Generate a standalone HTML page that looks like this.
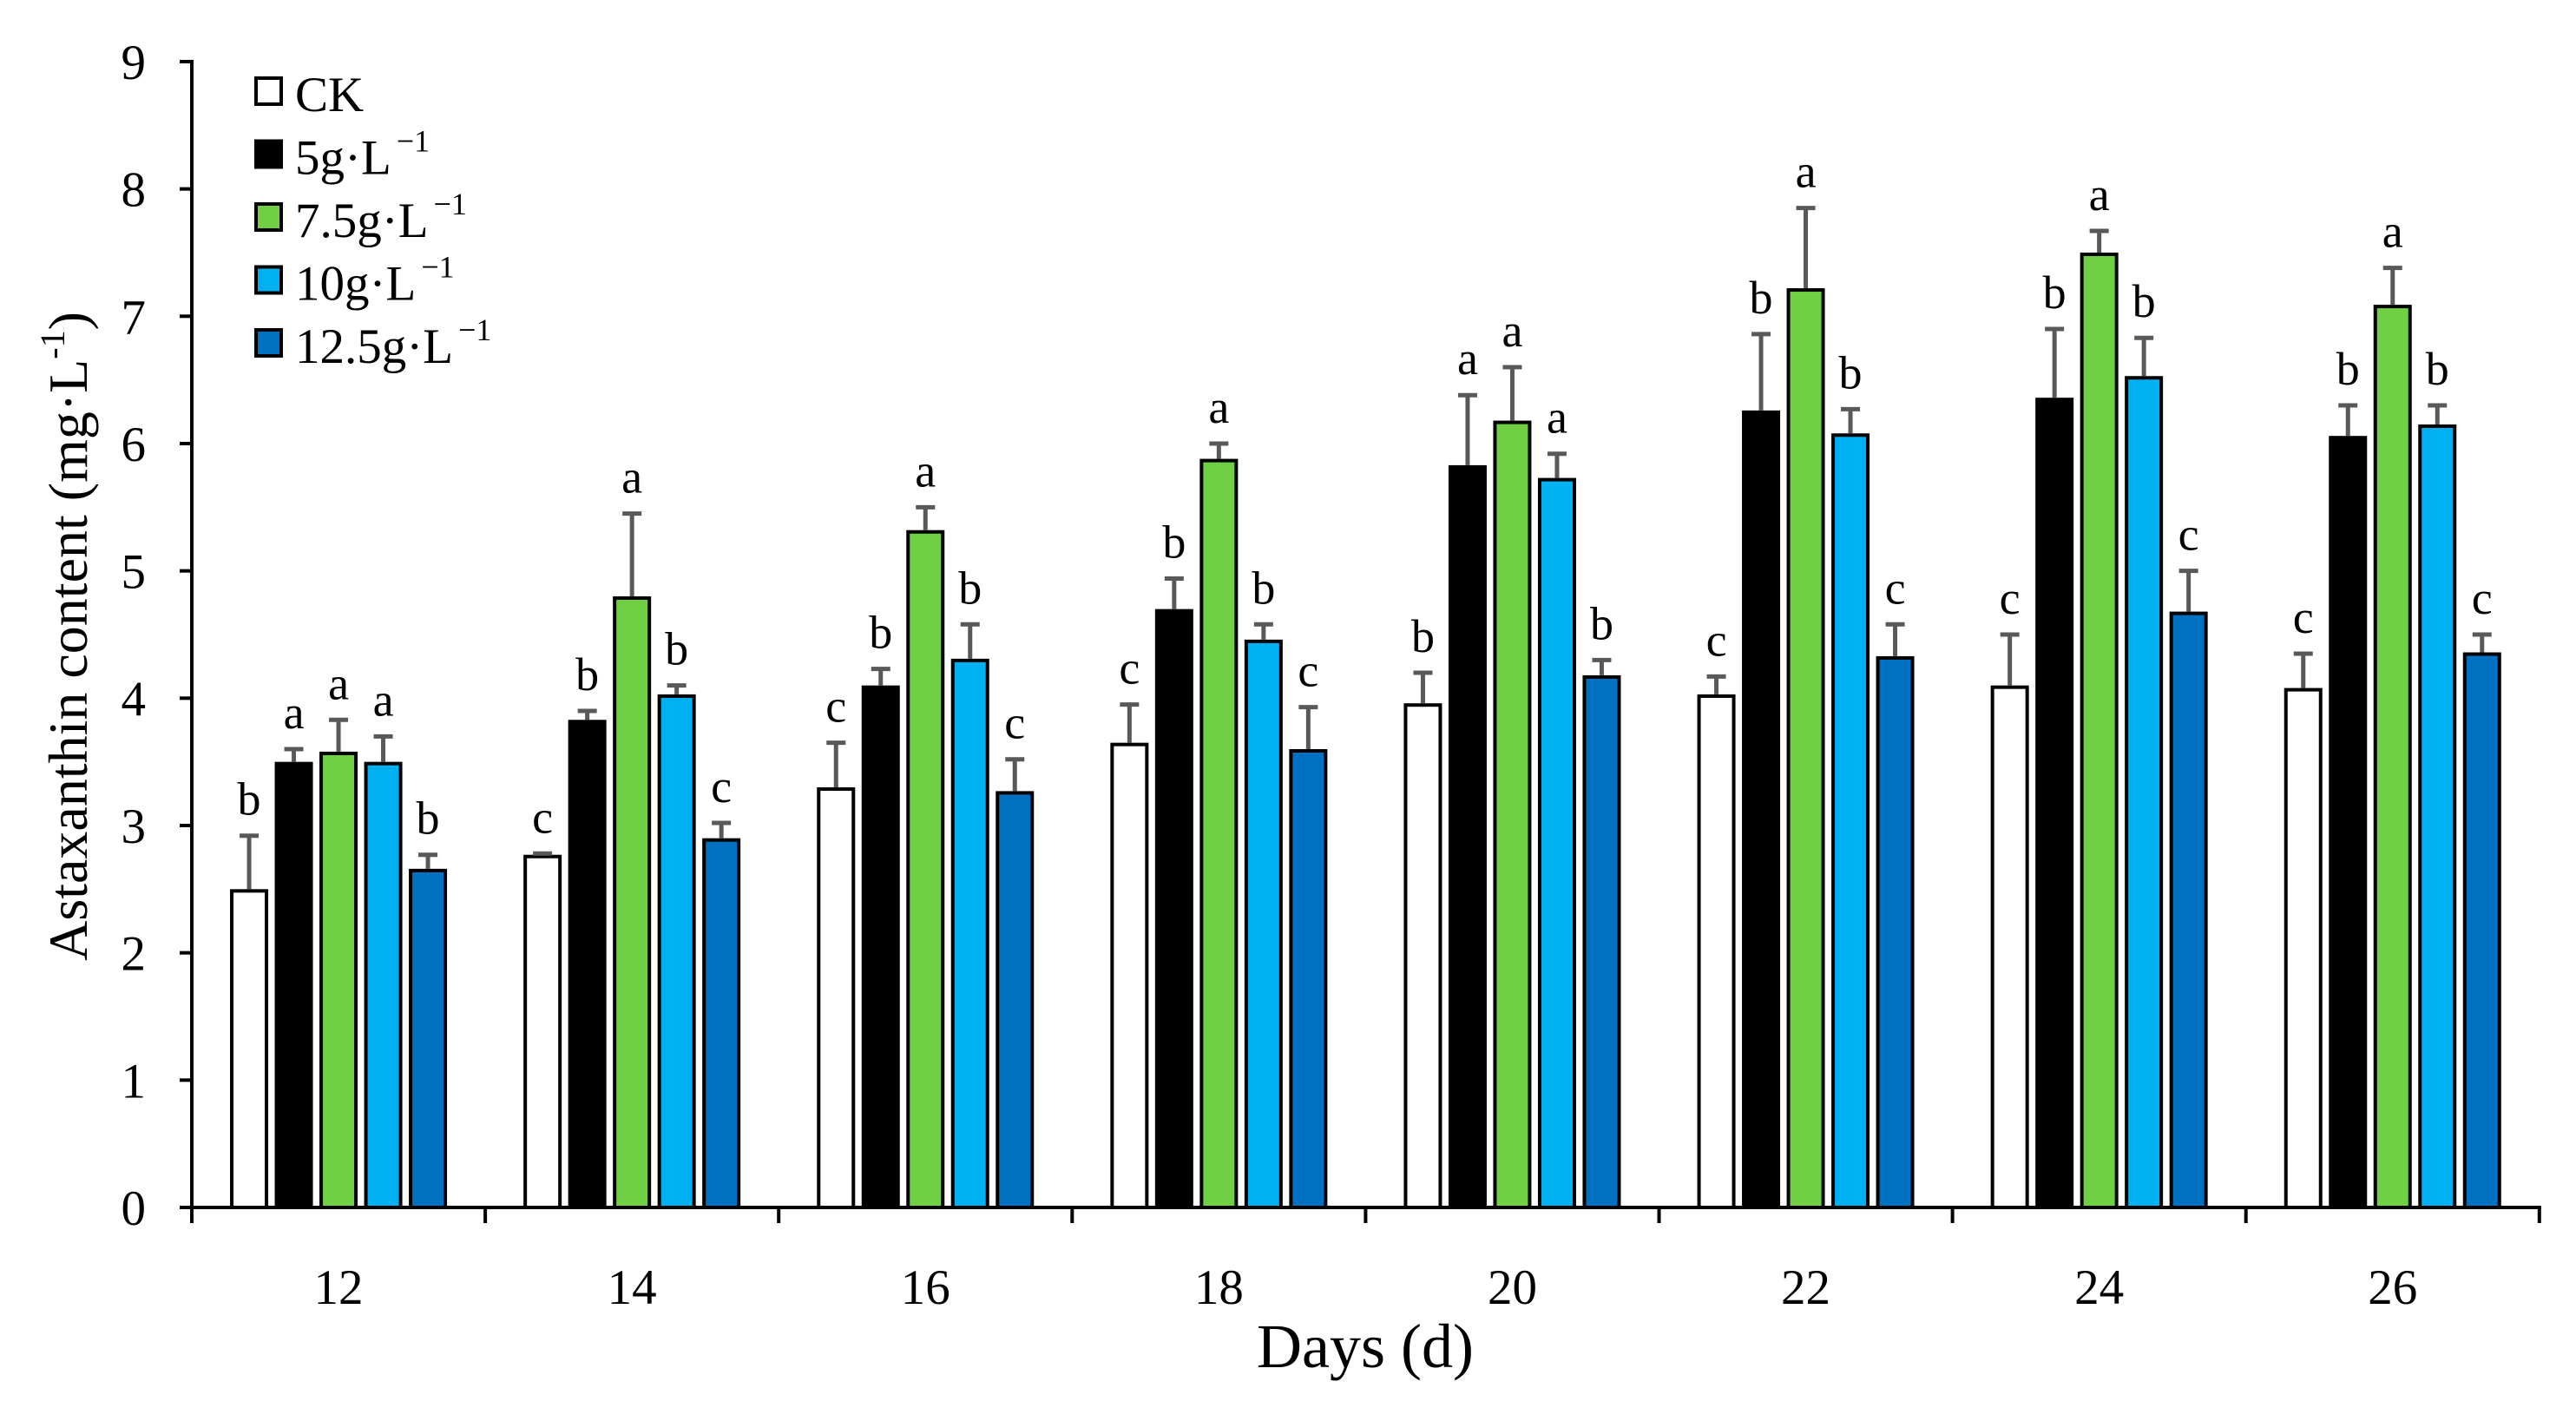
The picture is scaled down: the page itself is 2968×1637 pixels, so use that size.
<!DOCTYPE html>
<html><head><meta charset="utf-8"><style>
html,body{margin:0;padding:0;background:#fff;}
svg text{font-family:"Liberation Serif",serif;fill:#000;}
</style></head><body>
<svg id="chart" width="2968" height="1632" viewBox="0 0 2968 1632" xmlns="http://www.w3.org/2000/svg">
<g id="bars"></g>
<g id="errs"></g>
<g id="letters"></g>
<g id="axes"></g>
<g id="legend"></g>
<text x="1573" y="1575" font-size="72" text-anchor="middle">Days (d)</text>
<text transform="translate(100,733) rotate(-90)" font-size="64" text-anchor="middle">Astaxanthin content (mg·L<tspan font-size="40" dy="-26">-1</tspan><tspan dy="26">)</tspan></text>
</svg>
<script>
const categories = ["12","14","16","18","20","22","24","26"];
const seriesNames = ["CK","5g·L","7.5g·L","10g·L","12.5g·L"];
const seriesColors = ["#ffffff","#000000","#70d044","#00b0f0","#0070c0"];
const ck = [2.5,2.77,3.3,3.65,3.96,4.03,4.1,4.08];
const g5 = [3.5,3.83,4.1,4.7,5.83,6.26,6.36,6.06];
const g75 = [3.58,4.8,5.32,5.88,6.18,7.22,7.5,7.09];
const g10 = [3.5,4.03,4.31,4.46,5.73,6.08,6.53,6.15];
const g125 = [2.66,2.9,3.27,3.6,4.18,4.33,4.68,4.36];
const ckErr = [0.42,0.01,0.35,0.3,0.24,0.14,0.4,0.27];
const g5Err = [0.1,0.07,0.13,0.24,0.55,0.6,0.54,0.24];
const g75Err = [0.25,0.65,0.18,0.12,0.42,0.63,0.17,0.29];
const g10Err = [0.2,0.07,0.27,0.12,0.19,0.19,0.3,0.15];
const g125Err = [0.11,0.12,0.25,0.33,0.12,0.25,0.32,0.14];
const ckSig = ["b","c","c","c","b","c","c","c"];
const g5Sig = ["a","b","b","b","a","b","b","b"];
const g75Sig = ["a","a","a","a","a","a","a","a"];
const g10Sig = ["a","b","b","b","a","b","b","b"];
const g125Sig = ["b","c","c","c","b","c","c","c"];
const yTicks = [0,1,2,3,4,5,6,7,8,9];

const series=[ck,g5,g75,g10,g125], errs=[ckErr,g5Err,g75Err,g10Err,g125Err], sigs=[ckSig,g5Sig,g75Sig,g10Sig,g125Sig];
const NS="http://www.w3.org/2000/svg";
const X0=221, CW=338.1, Y0=1391, UNIT=146.67, BW=44, STEP=51.5;
const yS=v=>Y0-v*UNIT;
const xS=(c,s)=>X0+c*CW+CW/2+(s-2)*STEP;
function mk(tag,attrs,parent){const e=document.createElementNS(NS,tag);for(const k in attrs)e.setAttribute(k,attrs[k]);parent.appendChild(e);return e;}
const gB=document.getElementById('bars'),gE=document.getElementById('errs'),gL=document.getElementById('letters'),gA=document.getElementById('axes'),gG=document.getElementById('legend');
series.forEach((vals,s)=>{vals.forEach((v,c)=>{
  const cx=xS(c,s);
  const r=mk('rect',{x:cx-BW/2+2,y:yS(v)+2,width:BW-4,height:Y0-yS(v)-2,fill:seriesColors[s],stroke:'#000','stroke-width':4},gB);
  
  
  const top=yS(v+errs[s][c]);
  const l=mk('path',{d:`M${cx} ${yS(v)} V${top} M${cx-11} ${top} H${cx+11}`,stroke:'#595959','stroke-width':5,fill:'none'},gE);
  
  
  const t=mk('text',{x:cx,y:top-24,'font-size':54,'text-anchor':'middle'},gL);
  t.textContent=sigs[s][c];
  
  
});});
// axes
const ya=mk('line',{x1:X0,y1:yS(9)-2,x2:X0,y2:Y0,stroke:'#000','stroke-width':4},gA);


const xa=mk('line',{x1:X0-14,y1:Y0,x2:X0+8*CW+2,y2:Y0,stroke:'#000','stroke-width':4},gA);


yTicks.forEach(v=>{
  mk('line',{x1:X0-14,y1:yS(v),x2:X0,y2:yS(v),stroke:'#000','stroke-width':4},gA);
  const t=mk('text',{x:168,y:yS(v)+20,'font-size':57,'text-anchor':'end'},gA);
  t.textContent=v;
  
  
});
for(let i=0;i<=categories.length;i++){mk('line',{x1:X0+i*CW,y1:Y0,x2:X0+i*CW,y2:Y0+18,stroke:'#000','stroke-width':4},gA);}
categories.forEach((c,i)=>{
  const t=mk('text',{x:X0+i*CW+CW/2,y:1502,'font-size':57,'text-anchor':'middle'},gA);
  t.textContent=c;
  
  
});
// legend
seriesNames.forEach((n,i)=>{
  const y=88+i*72.5;
  const g=mk('g',{},gG);
  
  
  mk('rect',{x:295,y:y+2,width:29,height:30,fill:seriesColors[i],stroke:'#000','stroke-width':4},g);
  const t=mk('text',{x:340,y:y+40,'font-size':57},g);
  t.textContent=n;
  if(i>0){const sp=document.createElementNS(NS,'tspan');sp.setAttribute('font-size','36');sp.setAttribute('dy','-26');sp.setAttribute('dx','6');sp.textContent='−1';t.appendChild(sp);}
});
</script>
</body></html>
